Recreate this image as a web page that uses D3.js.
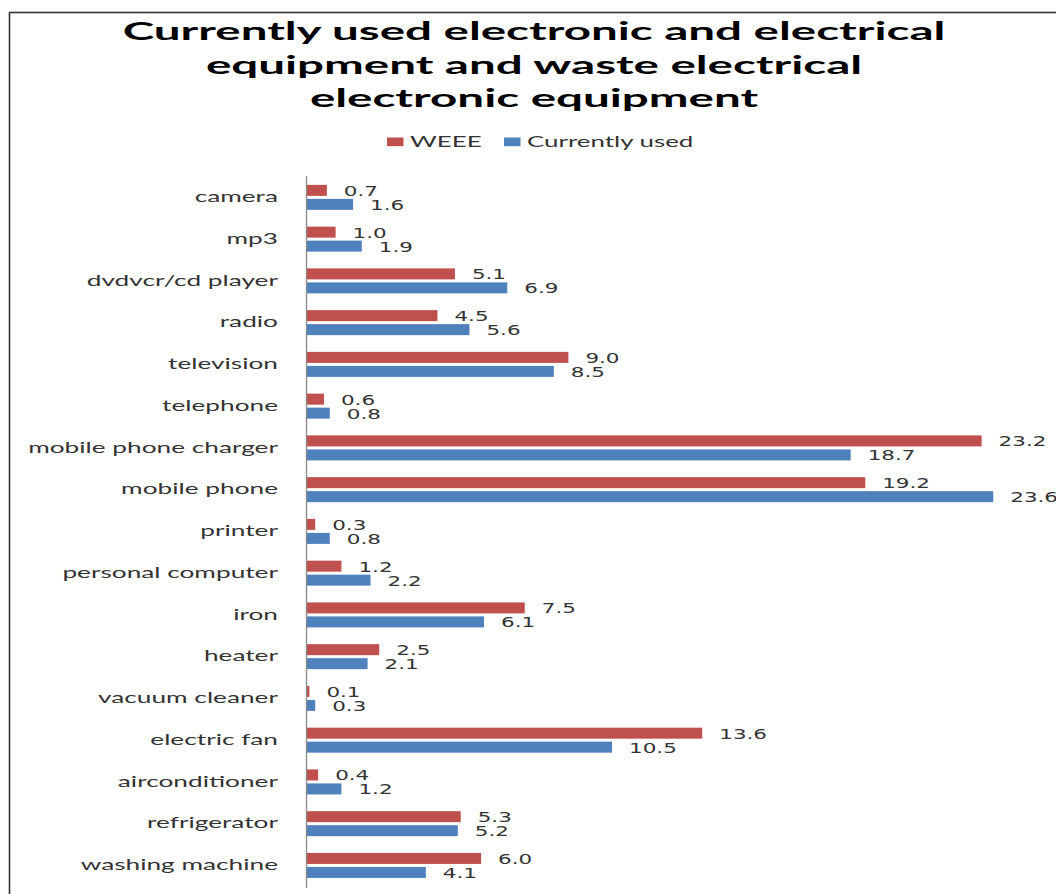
<!DOCTYPE html>
<html><head><meta charset="utf-8">
<script src="https://cdn.jsdelivr.net/npm/d3@7"></script>
<style>html,body{margin:0;padding:0;background:#fff;}svg{display:block;}</style>
</head><body>
<script>
const categories = ["camera","mp3","dvdvcr/cd player","radio","television","telephone","mobile phone charger","mobile phone","printer","personal computer","iron","heater","vacuum cleaner","electric fan","airconditioner","refrigerator","washing machine"];
const weee = [0.7,1.0,5.1,4.5,9.0,0.6,23.2,19.2,0.3,1.2,7.5,2.5,0.1,13.6,0.4,5.3,6.0];
const currentlyUsed = [1.6,1.9,6.9,5.6,8.5,0.8,18.7,23.6,0.8,2.2,6.1,2.1,0.3,10.5,1.2,5.2,4.1];
const seriesNames = ["WEEE","Currently used"];
const colors = ["#C0504D","#4F81BD"];
const titleLines = ["Currently used electronic and electrical","equipment and waste electrical","electronic equipment"];

const W = 1056, H = 894;
const svg = d3.select("body").append("svg").attr("width", W).attr("height", H);
svg.append("rect").attr("width", W).attr("height", H).attr("fill", "#fff");
// chart frame
svg.append("rect").attr("x", 9.5).attr("y", 12.5).attr("width", 1100).attr("height", 1000)
  .attr("fill", "#fff").attr("stroke", "#333").attr("stroke-width", 1.6);

function stretched(sel, x, y, sx) {
  return sel.attr("transform", `translate(${x},${y}) scale(${sx},1)`);
}

// title
const tsx = 1.98;
titleLines.forEach((t, i) => {
  stretched(svg.append("text"), 534, 40 + i * 33.5, tsx)
    .attr("text-anchor", "middle").attr("font-family", "Lato").attr("font-weight", "bold")
    .attr("font-size", 24).attr("fill", "#000").text(t);
});

// legend
const legX = [387, 504];
seriesNames.forEach((s, i) => {
  svg.append("rect").attr("x", legX[i]).attr("y", 137.5).attr("width", 16.5).attr("height", 8.7).attr("fill", colors[i]);
  stretched(svg.append("text"), legX[i] + 23, 147, 1.62)
    .attr("font-family", "Lato").attr("font-size", 16).attr("fill", "#333").text(s);
});

// scales
const x = d3.scaleLinear().domain([0, 25]).range([306.5, 306.5 + 25 * 29.1]);
const y = d3.scaleBand().domain(categories).range([176.3, 886.1]);
const bh = 11;

const g = svg.append("g");
categories.forEach((c, i) => {
  const cy = y(c) + y.bandwidth() / 2;
  const vals = [weee[i], currentlyUsed[i]];
  vals.forEach((v, k) => {
    const top = k === 0 ? cy - 12.3 : cy + 1.7;
    g.append("rect").attr("x", x(0)).attr("y", top).attr("width", x(v) - x(0)).attr("height", bh)
      .attr("fill", colors[k]);
    stretched(g.append("text"), x(v) + 17, top + bh / 2 + 5.5, 1.48)
      .attr("font-family", "DejaVu Sans").attr("font-size", 14.5).attr("fill", "#333")
      .text(v.toFixed(1));
  });
  stretched(g.append("text"), 278, cy + 5, 1.75)
    .attr("text-anchor", "end").attr("font-family", "Lato").attr("font-size", 15).attr("fill", "#333").text(c);
});

// category axis line
svg.append("line").attr("x1", x(0)).attr("x2", x(0)).attr("y1", 176.3).attr("y2", 888)
  .attr("stroke", "#888").attr("stroke-width", 1.3);
</script>
</body></html>
